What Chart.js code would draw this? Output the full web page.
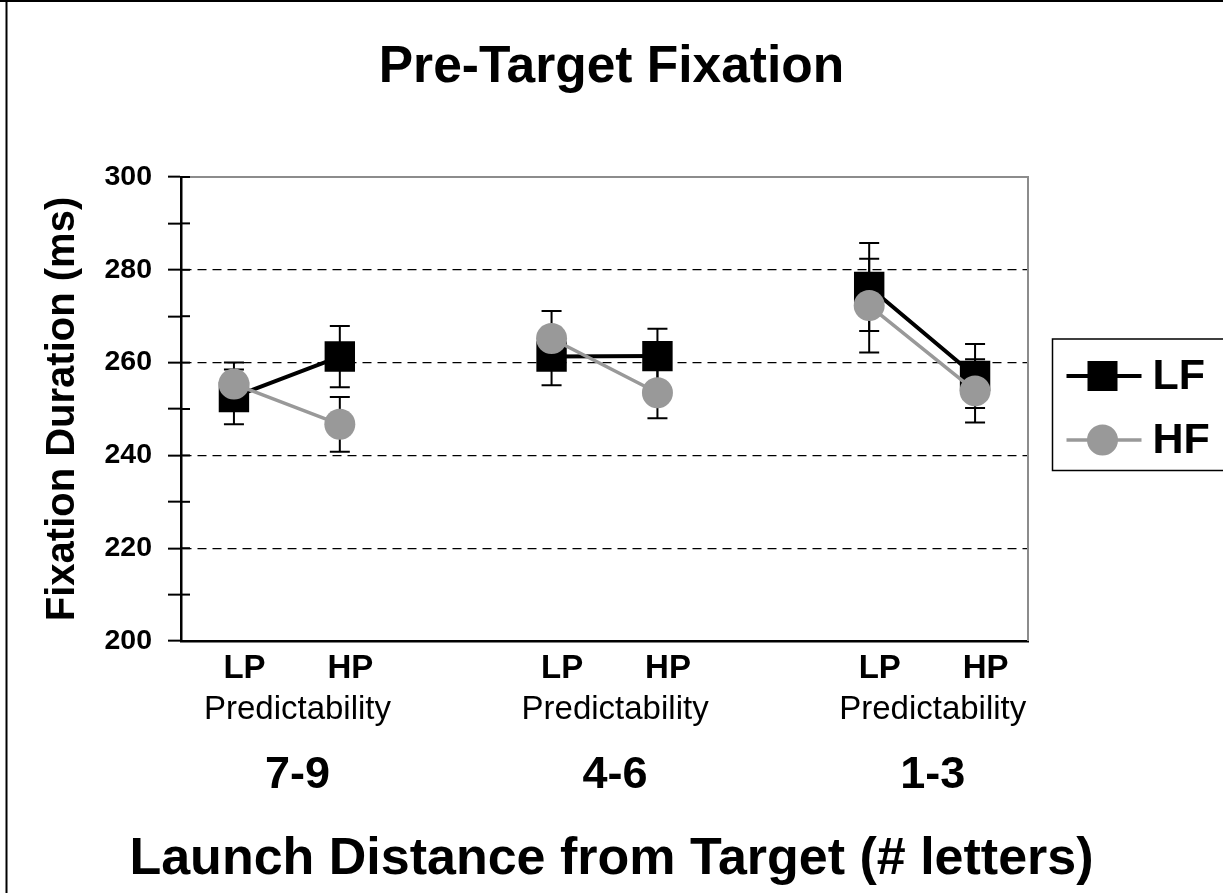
<!DOCTYPE html>
<html>
<head>
<meta charset="utf-8">
<script src="https://cdn.jsdelivr.net/npm/chart.js@4.4.1/dist/chart.umd.min.js"></script>
<style>
html,body{margin:0;padding:0;background:#fff;}
canvas{display:block;}
</style>
</head>
<body>
<canvas id="c" width="1223" height="893"></canvas>
<script>
// ---- data ----
const chartTitle = 'Pre-Target Fixation';
const yAxisTitle = 'Fixation Duration (ms)';
const xAxisTitle = 'Launch Distance from Target (# letters)';
const predictability = ['LP', 'HP', '', 'LP', 'HP', '', 'LP', 'HP'];
const predictabilityLabel = 'Predictability';
const distanceGroups = ['7-9', '4-6', '1-3'];
const seriesNames = ['LF', 'HF'];
const lfMeans = [252.6, 261.3, null, 261.3, 261.4, null, 276.3, 257.1];
const lfErrors = [5.9, 6.6, null, 6.2, 5.9, null, 9.5, 6.9];
const hfMeans = [255.4, 246.7, null, 265.2, 253.5, null, 272.3, 253.9];
const hfErrors = [4.6, 5.9, null, 5.9, 5.5, null, 10.1, 6.8];
const yTickLabels = ['200', '220', '240', '260', '280', '300'];
const yMin = 200, yMax = 300, yMinorStep = 10;

const FONT = "'Liberation Sans', Arial, Helvetica, sans-serif";
const LF_COLOR = '#000000';
const HF_COLOR = '#999999';
const labelShift = 0.1; // text labels sit slightly right of the markers in the original

// indices with a label, and centre of each LP/HP pair
const labelIndices = predictability.map((l, i) => (l ? i : null)).filter(v => v !== null);
const groupCenters = [];
(function () {
  let start = null;
  predictability.forEach((lab, i) => {
    if (lab && start === null) start = i;
    if ((!lab || i === predictability.length - 1) && start !== null) {
      const end = lab ? i : i - 1;
      groupCenters.push((start + end) / 2);
      start = null;
    }
  });
})();

const errorBarPlugin = {
  id: 'errorBars',
  beforeDatasetsDraw(chart) {
    const {ctx, chartArea, scales: {x, y}} = chart;
    ctx.save();
    ctx.strokeStyle = '#8c8c8c';
    ctx.lineWidth = 2;
    ctx.beginPath();
    ctx.moveTo(chartArea.left, chartArea.top);
    ctx.lineTo(chartArea.right, chartArea.top);
    ctx.lineTo(chartArea.right, chartArea.bottom);
    ctx.stroke();
    ctx.strokeStyle = '#000';
    ctx.lineWidth = 2;
    const sets = [[lfMeans, lfErrors], [hfMeans, hfErrors]];
    sets.forEach(([m, e]) => {
      m.forEach((v, i) => {
        if (v === null) return;
        const px = x.getPixelForValue(i);
        const yt = y.getPixelForValue(v + e[i]);
        const yb = y.getPixelForValue(v - e[i]);
        ctx.beginPath();
        ctx.moveTo(px, yt); ctx.lineTo(px, yb);
        ctx.moveTo(px - 10, yt); ctx.lineTo(px + 10, yt);
        ctx.moveTo(px - 10, yb); ctx.lineTo(px + 10, yb);
        ctx.stroke();
      });
    });
    ctx.restore();
  },
  afterDraw(chart) {
    const {ctx, chartArea, scales: {y}} = chart;
    ctx.save();
    ctx.strokeStyle = '#000';
    ctx.lineWidth = 2;
    y.ticks.forEach(t => {
      const py = y.getPixelForValue(t.value);
      ctx.beginPath();
      ctx.moveTo(chartArea.left, py);
      ctx.lineTo(chartArea.left + 9, py);
      ctx.stroke();
    });
    ctx.lineWidth = 2;
    ctx.beginPath();
    ctx.moveTo(0, 1); ctx.lineTo(chart.width, 1);
    ctx.moveTo(6.5, 0); ctx.lineTo(6.5, chart.height);
    ctx.stroke();
    // legend
    const lx = chartArea.right + 24.5, ly = chartArea.top + 162;
    ctx.lineWidth = 1.5;
    ctx.strokeRect(lx, ly, 220, 131.5);
    const rows = [
      {name: seriesNames[0], color: LF_COLOR, style: 'rect', y: ly + 37, w: 4},
      {name: seriesNames[1], color: HF_COLOR, style: 'circle', y: ly + 101, w: 3.5}
    ];
    rows.forEach(r => {
      ctx.strokeStyle = r.color;
      ctx.fillStyle = r.color;
      ctx.lineWidth = r.w;
      ctx.beginPath();
      ctx.moveTo(lx + 14, r.y); ctx.lineTo(lx + 89, r.y);
      ctx.stroke();
      const cx = lx + 50;
      if (r.style === 'rect') {
        ctx.fillRect(cx - 15, r.y - 15, 30, 30);
      } else {
        ctx.beginPath();
        ctx.arc(cx, r.y, 15.5, 0, Math.PI * 2);
        ctx.fill();
      }
      ctx.fillStyle = '#000';
      ctx.font = 'bold 43px ' + FONT;
      ctx.textBaseline = 'middle';
      ctx.textAlign = 'left';
      ctx.fillText(r.name, lx + 100, r.y + 1);
    });
    ctx.restore();
  }
};

function labelAxis(weight, ticksFor, labelFor, font, tickLen, pad) {
  return {
    type: 'linear',
    position: 'bottom',
    weight: weight,
    min: -0.5 - labelShift,
    max: predictability.length - 0.5 - labelShift,
    grid: {display: true, drawOnChartArea: false, drawTicks: true, tickLength: tickLen,
           color: 'rgba(0,0,0,0)', tickColor: 'rgba(0,0,0,0)'},
    border: {display: false},
    afterBuildTicks: s => { s.ticks = ticksFor.map(v => ({value: v})); },
    ticks: {
      color: '#000',
      font: font,
      padding: pad,
      autoSkip: false,
      maxRotation: 0,
      callback: labelFor
    }
  };
}

new Chart(document.getElementById('c'), {
  type: 'line',
  data: {
    labels: predictability,
    datasets: [
      {
        label: seriesNames[0],
        data: lfMeans,
        borderColor: LF_COLOR,
        backgroundColor: LF_COLOR,
        borderWidth: 4,
        pointStyle: 'rect',
        pointRadius: 21.5,
        pointBorderWidth: 0,
        pointBackgroundColor: LF_COLOR,
        tension: 0,
        spanGaps: false,
        order: 1
      },
      {
        label: seriesNames[1],
        data: hfMeans,
        borderColor: HF_COLOR,
        backgroundColor: HF_COLOR,
        borderWidth: 3.5,
        pointStyle: 'circle',
        pointRadius: 15.5,
        pointBorderWidth: 0,
        pointBackgroundColor: HF_COLOR,
        tension: 0,
        spanGaps: false,
        order: 0
      }
    ]
  },
  options: {
    responsive: false,
    animation: false,
    devicePixelRatio: 1,
    layout: {padding: {left: 0, right: 0, top: 0, bottom: 3}},
    plugins: {
      legend: {display: false},
      tooltip: {enabled: false},
      title: {
        display: true,
        text: chartTitle,
        color: '#000',
        font: {family: FONT, size: 51.5, weight: 'bold'},
        padding: {top: 37, bottom: 78.2}
      },
      subtitle: {
        display: true,
        position: 'bottom',
        text: xAxisTitle,
        color: '#000',
        font: {family: FONT, size: 52, weight: 'bold'},
        padding: {top: 25.6, bottom: -1}
      }
    },
    scales: {
      x: {
        type: 'category',
        position: 'bottom',
        weight: 0,
        offset: true,
        grid: {display: false, drawTicks: false},
        border: {display: true, color: '#000', width: 2.5},
        ticks: {display: false}
      },
      xPred: labelAxis(1, labelIndices, v => predictability[Math.round(v)],
                       {family: FONT, size: 33, weight: 'bold'}, 7.8, 0),
      xPredTitle: labelAxis(2, groupCenters, () => predictabilityLabel,
                       {family: FONT, size: 33, weight: 'normal'}, 0, 1.3),
      xGroup: labelAxis(3, groupCenters, (v, i) => distanceGroups[i],
                       {family: FONT, size: 45, weight: 'bold'}, 18.4, 0),
      y: {
        type: 'linear',
        position: 'left',
        min: yMin,
        max: yMax,
        afterFit: s => { s.width = 181; },
        ticks: {
          stepSize: yMinorStep,
          color: '#000',
          font: {family: FONT, size: 28.5, weight: 'bold'},
          padding: 16,
          autoSkip: false,
          callback: v => (yTickLabels.includes(String(v)) ? String(v) : '')
        },
        grid: {
          display: true,
          drawOnChartArea: true,
          drawTicks: true,
          tickLength: 13,
          tickWidth: 2,
          tickColor: '#000',
          lineWidth: 1.3,
          color: c => {
            const v = c.tick ? c.tick.value : null;
            return (v !== null && yTickLabels.includes(String(v)) && v > yMin && v < yMax) ? '#000' : 'rgba(0,0,0,0)';
          }
        },
        border: {display: true, color: '#000', width: 2.5, dash: [9, 6]},
        title: {
          display: true,
          text: yAxisTitle,
          color: '#000',
          font: {family: FONT, size: 40, weight: 'bold'},
          padding: {top: 39, bottom: 0}
        }
      },
      yRight: {
        type: 'linear',
        position: 'right',
        display: true,
        afterFit: s => { s.width = 195; },
        grid: {display: false, drawTicks: false},
        border: {display: false},
        ticks: {display: false}
      }
    }
  },
  plugins: [errorBarPlugin]
});
</script>
</body>
</html>
